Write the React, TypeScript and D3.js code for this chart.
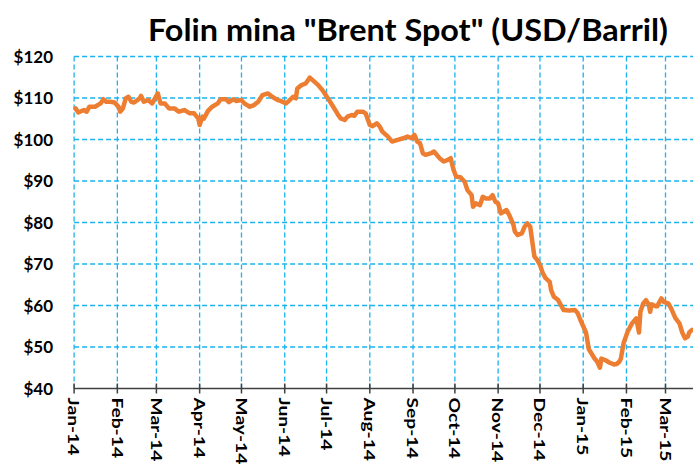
import React from "react";
import * as d3 from "d3";

const dates = [
  "2014-01-02","2014-01-04","2014-01-08","2014-01-10","2014-01-12","2014-01-16","2014-01-20","2014-01-22","2014-01-24","2014-01-27","2014-01-30",
  "2014-02-02","2014-02-03","2014-02-05","2014-02-07","2014-02-09","2014-02-11","2014-02-13","2014-02-17","2014-02-18","2014-02-20","2014-02-23","2014-02-26","2014-02-28",
  "2014-03-02","2014-03-04","2014-03-07","2014-03-10","2014-03-14","2014-03-17","2014-03-21","2014-03-25","2014-03-28","2014-03-31",
  "2014-04-01","2014-04-03","2014-04-04","2014-04-07","2014-04-10","2014-04-14","2014-04-16","2014-04-20","2014-04-22","2014-04-25","2014-04-27",
  "2014-05-01","2014-05-03","2014-05-07","2014-05-10","2014-05-13","2014-05-16","2014-05-20","2014-05-23","2014-05-27","2014-05-29",
  "2014-06-02","2014-06-04","2014-06-07","2014-06-09","2014-06-10","2014-06-13","2014-06-16","2014-06-19","2014-06-21","2014-06-25","2014-06-28",
  "2014-07-02","2014-07-05","2014-07-09","2014-07-11","2014-07-14","2014-07-16","2014-07-19","2014-07-21","2014-07-23","2014-07-27","2014-07-29",
  "2014-08-01","2014-08-03","2014-08-06","2014-08-08","2014-08-10","2014-08-14","2014-08-17","2014-08-21","2014-08-25","2014-08-28","2014-08-31",
  "2014-09-02","2014-09-04","2014-09-06","2014-09-08","2014-09-10","2014-09-14","2014-09-16","2014-09-20","2014-09-23","2014-09-26","2014-09-28","2014-09-30",
  "2014-10-02","2014-10-05","2014-10-08","2014-10-10","2014-10-13","2014-10-14","2014-10-16","2014-10-19","2014-10-21","2014-10-23","2014-10-26","2014-10-28","2014-10-30",
  "2014-11-01","2014-11-03","2014-11-05","2014-11-07","2014-11-09","2014-11-12","2014-11-13","2014-11-15","2014-11-18","2014-11-20","2014-11-22","2014-11-24","2014-11-25","2014-11-27","2014-11-29",
  "2014-12-01","2014-12-03","2014-12-05","2014-12-08","2014-12-09","2014-12-11","2014-12-14","2014-12-16","2014-12-18","2014-12-22","2014-12-26","2014-12-28","2014-12-30",
  "2015-01-01","2015-01-03","2015-01-05","2015-01-09","2015-01-11","2015-01-13","2015-01-14","2015-01-17","2015-01-20","2015-01-23","2015-01-25","2015-01-27","2015-01-28","2015-01-30",
  "2015-02-02","2015-02-05","2015-02-08","2015-02-10","2015-02-11","2015-02-13","2015-02-15","2015-02-17","2015-02-18","2015-02-19","2015-02-22","2015-02-23","2015-02-26","2015-02-28",
  "2015-03-03","2015-03-05","2015-03-08","2015-03-11","2015-03-13","2015-03-15","2015-03-17","2015-03-18","2015-03-20"
];

const prices = [
  107.5,106.5,107.1,106.7,107.9,107.9,108.7,109.7,109.1,109.1,108.9,
  107.8,106.7,107.5,109.9,110.3,109.1,108.9,109.9,110.5,109.1,109.5,108.7,109.9,
  111.1,108.7,108.7,107.5,107.5,106.7,107.1,106.3,106.3,105.1,
  103.5,105.5,105.0,106.9,107.9,108.7,109.7,109.7,109.0,109.7,109.3,
  109.5,108.7,107.9,108.3,109.1,110.7,111.1,110.3,109.5,109.3,
  108.7,109.3,110.3,109.9,112.3,113.1,113.5,114.9,114.3,113.1,111.9,
  109.9,108.3,106.1,105.1,104.7,105.5,105.9,105.7,106.7,106.7,106.3,
  103.5,103.2,103.9,103.2,101.9,100.7,99.5,99.9,100.3,100.7,100.3,
  101.1,99.5,99.1,96.7,96.3,96.7,97.1,95.5,94.7,95.1,95.5,92.7,
  91.0,90.9,89.8,87.8,86.6,83.8,84.6,84.2,86.2,85.8,85.8,86.6,85.0,
  84.6,82.2,82.6,83.0,81.8,79.4,77.8,77.0,77.4,79.0,79.8,79.0,76.6,71.8,71.0,
  69.8,67.8,66.6,65.7,63.7,62.1,61.3,60.1,58.9,58.8,58.9,58.2,56.5,
  55.0,53.5,49.5,47.3,46.5,45.0,47.2,46.8,46.2,45.8,45.9,46.5,47.2,51.0,
  53.8,55.7,56.9,53.5,58.5,60.5,61.3,60.2,58.5,60.3,59.8,59.8,61.7,60.8,
  60.5,59.3,57.0,55.7,53.5,52.1,52.5,53.5,54.1
];

const monthLabels = ["Jan-14","Feb-14","Mar-14","Apr-14","May-14","Jun-14","Jul-14","Aug-14","Sep-14","Oct-14","Nov-14","Dec-14","Jan-15","Feb-15","Mar-15"];
const yTicks = [40, 50, 60, 70, 80, 90, 100, 110, 120];
const title = "Folin mina \"Brent Spot\" (USD/Barril)";

const W = 693, H = 466;
const parse = (s: string) => {
  const [y, m, d] = s.split("-").map(Number);
  return new Date(y, m - 1, d);
};

export default function App() {
  const x = d3.scaleTime()
    .domain([new Date(2014, 0, 1), new Date(2015, 2, 1)])
    .range([74.1, 665.5]);
  const y = d3.scaleLinear().domain([40, 120]).range([388.5, 56.5]);
  const monthTicks = d3.timeMonth.range(new Date(2014, 0, 1), new Date(2015, 2, 2));
  const data = dates.map((d, i) => ({ date: parse(d), v: prices[i] }));
  const line = d3.line<{ date: Date; v: number }>()
    .x(d => x(d.date))
    .y(d => y(d.v));
  const grid = "#1AB2F0";
  const font = "Lato, 'Open Sans', sans-serif";
  const x0 = x.range()[0];
  return (
    <svg width={W} height={H} style={{ position: "absolute", left: 0, top: 0, background: "#fff" }}>
      <rect x={0} y={0} width={W} height={H} fill="#fff" />
      <text x={148} y={41} fontFamily={font} fontWeight={700} fontSize={31}
        textLength={520} lengthAdjust="spacingAndGlyphs" fill="#000">{title}</text>
      {yTicks.filter(t => t > 40).map(t => (
        <line key={"h" + t} x1={x0} x2={W} y1={y(t)} y2={y(t)} stroke={grid}
          strokeWidth={1.3} strokeDasharray="5,3" />
      ))}
      {monthTicks.map((m, i) => (
        <line key={"v" + i} x1={x(m)} x2={x(m)} y1={y(120)} y2={y(40)} stroke={grid}
          strokeWidth={1.3} strokeDasharray="5,3" />
      ))}
      <line x1={x0} x2={W} y1={y(40)} y2={y(40)} stroke="#404040" strokeWidth={1.5} />
      {monthTicks.map((m, i) => (
        <line key={"t" + i} x1={x(m)} x2={x(m)} y1={y(40) - 5} y2={y(40) + 5} stroke="#404040" strokeWidth={1.5} />
      ))}
      {yTicks.map(t => (
        <text key={"yl" + t} x={53} y={y(t)} dy="0.36em" textAnchor="end" fontFamily={font}
          fontWeight={700} fontSize={17} fill="#000">{"$" + t}</text>
      ))}
      {monthTicks.map((m, i) => (
        <text key={"xl" + i} transform={`translate(${x(m)},${y(40) + 9}) rotate(90) scale(1.2,1)`}
          dy="0.36em" textAnchor="start" fontFamily={font} fontWeight={700} fontSize={16} fill="#000">
          {monthLabels[i]}
        </text>
      ))}
      <path d={line(data) || ""} fill="none" stroke="#ED7D31" strokeWidth={4.5}
        strokeLinejoin="round" strokeLinecap="round" />
    </svg>
  );
}
